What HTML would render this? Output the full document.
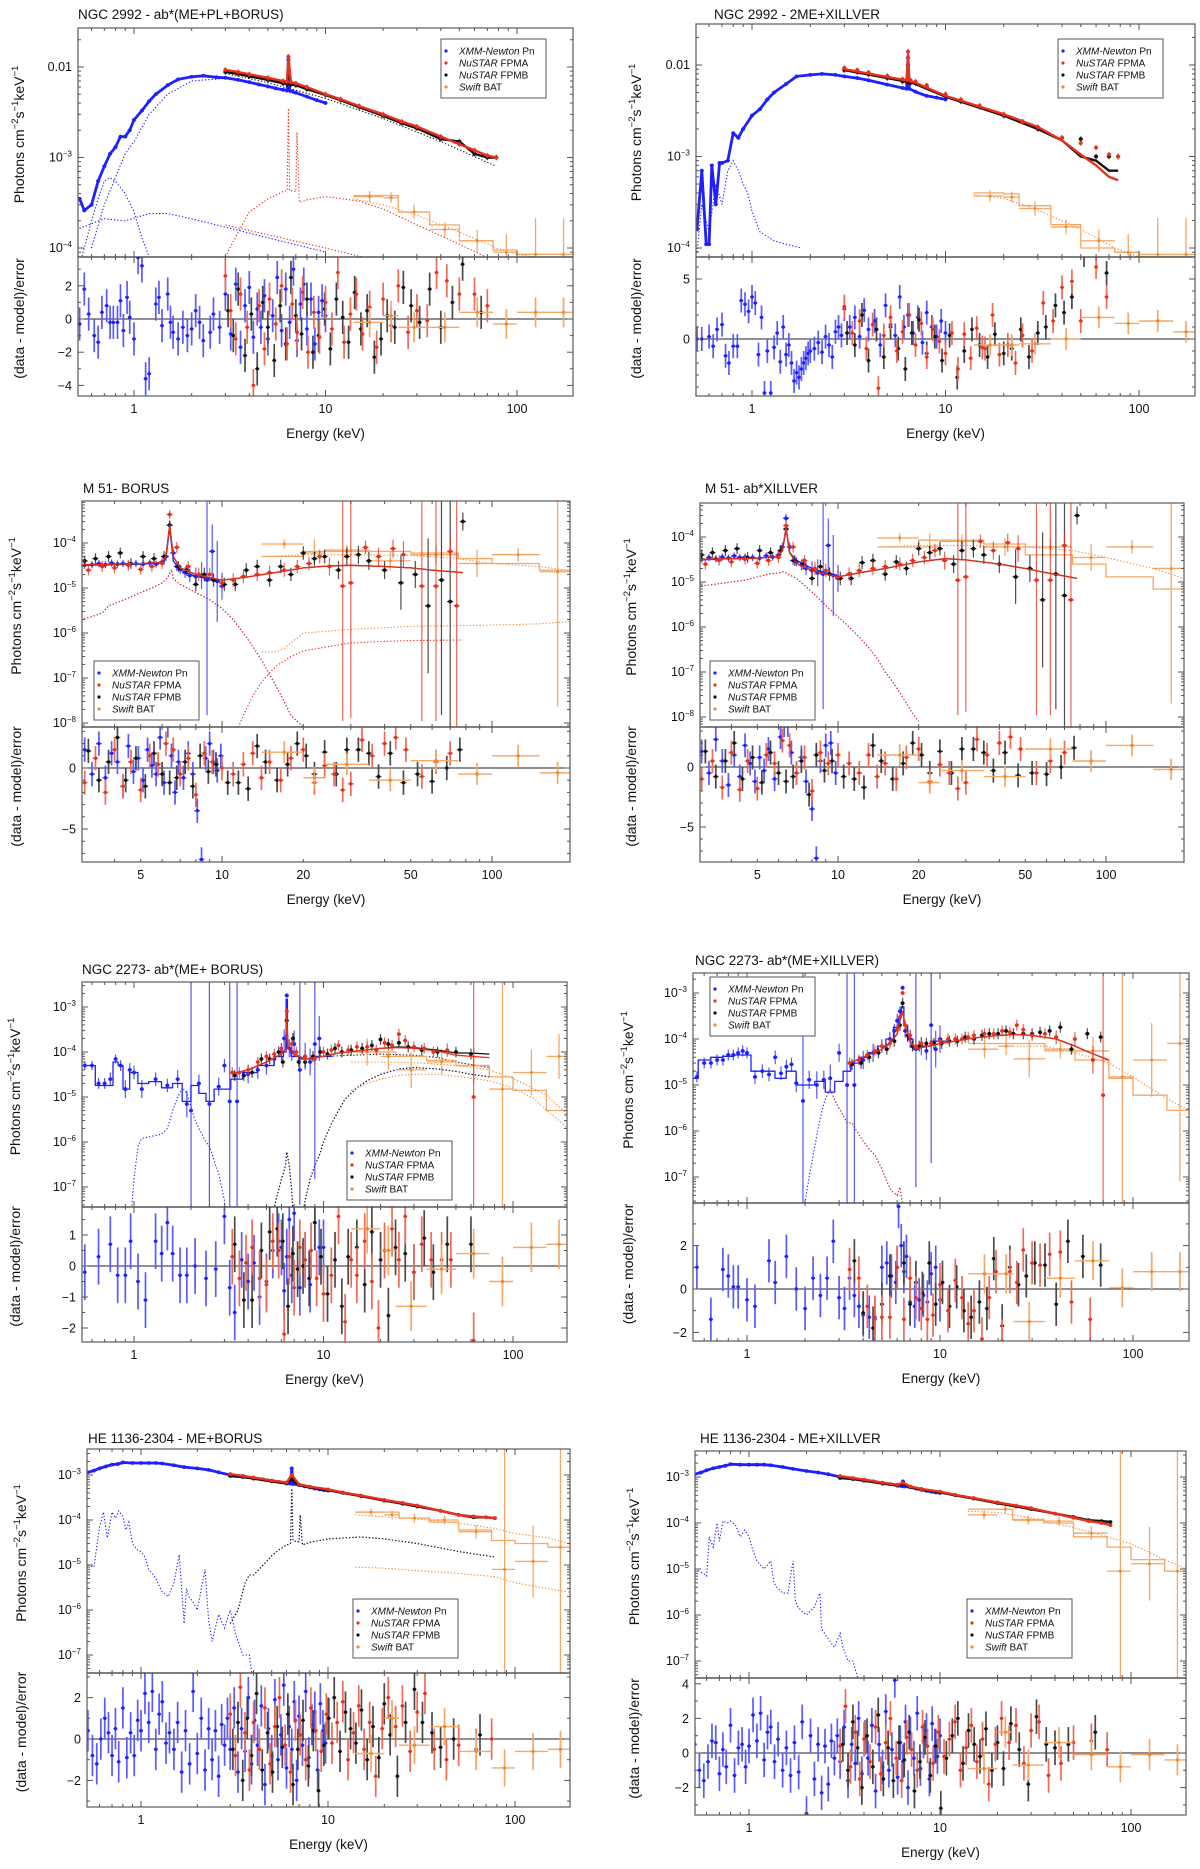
<!DOCTYPE html>
<html><head><meta charset="utf-8"><title>X-ray spectral fits</title>
<style>
html,body{margin:0;padding:0;background:#fff;}
svg text{font-family:"Liberation Sans",Arial,sans-serif;fill:#111;}
</style></head>
<body>
<svg id="fig" xmlns="http://www.w3.org/2000/svg" width="1200" height="1864" viewBox="0 0 1200 1864"><rect width="1200" height="1864" fill="#fff"/></svg>
<script>
// ---------- shared BAT binning ----------
const batBins=[14,20,24,35,50,75,100,150,195];
const batE=[17,22,29,42,62,88,125,175];

// ---------- Panel 1: NGC 2992 - ab*(ME+PL+BORUS) ----------
const p1_xE=[0.52,0.55,0.6,0.65,0.7,0.75,0.8,0.85,0.9,0.95,1.0,1.1,1.2,1.3,1.5,1.7,2.0,2.3,2.7,3.0,3.5,4,4.5,5,5.5,6.0,6.3,6.4,6.5,6.7,7,8,9,10];
const p1_xF=[3.5e-4,2.6e-4,3e-4,5.5e-4,8e-4,1.1e-3,1.3e-3,1.7e-3,1.7e-3,2e-3,2.6e-3,3.3e-3,4.2e-3,5e-3,6.3e-3,7.3e-3,7.8e-3,8e-3,7.7e-3,7.6e-3,7.2e-3,6.8e-3,6.4e-3,6.1e-3,5.8e-3,5.6e-3,5.5e-3,1.2e-2,5.5e-3,5.4e-3,5.2e-3,4.7e-3,4.3e-3,4.0e-3];
const p1_nE=[3,3.5,4,5,6,6.3,6.4,6.6,7,8,10,12,15,20,25,30,40,50,60,70,78];
const p1_aF=[9.3e-3,8.8e-3,8.3e-3,7.6e-3,7e-3,6.9e-3,1.3e-2,6.8e-3,6.6e-3,6e-3,5e-3,4.4e-3,3.7e-3,3e-3,2.5e-3,2.2e-3,1.7e-3,1.4e-3,1.2e-3,1.05e-3,1.0e-3];
const p1_bF=[8.8e-3,8.4e-3,7.9e-3,7.2e-3,6.6e-3,6.5e-3,9e-3,6.4e-3,6.3e-3,5.7e-3,4.9e-3,4.3e-3,3.6e-3,2.9e-3,2.4e-3,2.1e-3,1.6e-3,1.5e-3,1.1e-3,1.0e-3,1.0e-3];
const p1_batF=[3.7e-4,3.6e-4,2.5e-4,1.6e-4,1.2e-4,9e-5,8.5e-5,8.5e-5];
const p1_batErr=[0.06,0.06,0.08,0.08,0.12,0.2,0.4,0.4];
const p1_batM=[3.8e-4,3.8e-4,2.5e-4,1.8e-4,1.2e-4,9.5e-5,8.5e-5,8.5e-5];
const p1_c1E=[0.5,0.55,0.6,0.65,0.7,0.75,0.8,0.9,1.0,1.1,1.2,1.4];
const p1_c1F=[5e-5,1e-4,2e-4,3.5e-4,5.5e-4,6e-4,5.5e-4,4e-4,2.5e-4,1.3e-4,8e-5,5e-5];
const p1_c2E=[0.6,0.7,0.8,0.9,1.0,1.2,1.5,2.0,3.0,5,7];
const p1_c2F=[1e-4,3e-4,6e-4,1.1e-3,1.5e-3,3e-3,5e-3,7e-3,7.5e-3,6e-3,5e-3];
const p1_c3E=[0.5,0.7,0.9,1.2,1.5,2,3,5,10];
const p1_c3F=[1.6e-4,2.1e-4,2e-4,2.4e-4,2.4e-4,2.1e-4,1.7e-4,1.3e-4,9e-5];
const p1_c4E=[3,3.5,4,5,6,6.3,6.4,6.5,6.8,7.0,7.1,7.3,8,10,15,20,30,50,78];
const p1_c4F=[8e-5,1.5e-4,2.5e-4,3.5e-4,4.2e-4,4.3e-4,3.5e-3,4.3e-4,4.3e-4,4.2e-4,1.9e-3,3.2e-4,3.4e-4,3.7e-4,3.3e-4,2.7e-4,1.8e-4,1.1e-4,7e-5];
const p1_c5E=[3,5,10,20,30];
const p1_c5F=[1.8e-4,1.4e-4,1.0e-4,7e-5,5.5e-5];
const p1_c6E=[3,5,10,20,40,78];
const p1_c6F=[8.5e-3,6.7e-3,4.5e-3,2.7e-3,1.5e-3,8e-4];
const p1_c7E=[14,20,30,50,78,100,150,195];
const p1_c7F=[3.5e-4,3.0e-4,2.3e-4,1.5e-4,1.0e-4,8.5e-5,7.5e-5,7e-5];
const p1_rxE=[0.52,0.55,0.58,0.62,0.65,0.68,0.72,0.75,0.78,0.82,0.85,0.88,0.92,0.95,1.0,1.05,1.1,1.15,1.2,1.3,1.35,1.4,1.5,1.55,1.6,1.7,1.8,1.9,2.0,2.1,2.2,2.3,2.5,2.6,2.8,3.0,3.2,3.4,3.6,3.8,4.0,4.2,4.4,4.6,4.8,5.0,5.3,5.6,5.9,6.2,6.5,6.8,7.1,7.4,7.7,8.0,8.4,8.8,9.2,9.6,10];
const p1_rxR=[-0.3,1.8,0.3,-1.0,-1.4,0.4,0.8,-0.2,-0.2,-0.2,1.1,-0.7,1.3,0.1,-1.2,3.7,3.2,-3.6,-3.3,0.9,1.3,-0.4,1.5,-0.2,-0.8,-1.2,-0.5,-1.0,-0.6,0.5,-0.2,-1.3,-0.8,0.3,-0.5,1.5,-0.9,2.1,-1.7,0.8,1.9,-1.1,0.6,-0.5,1.4,-1.2,0.2,2.5,-0.7,1.8,-0.2,3.0,-1.3,0.9,2.1,-0.6,1.2,-1.5,0.4,1.1,0.2];
const p1_raE=[3.0,3.2,3.4,3.6,3.9,4.2,4.5,4.8,5.1,5.5,5.9,6.3,6.7,7.1,7.6,8.1,8.7,9.3,10,10.8,11.6,12.5,13.5,14.5,15.6,17,18.5,20,22,24,27,30,34,38,43,50,60,70];
const p1_raR=[2.6,0.5,-1.2,1.5,-0.5,-4.0,0.8,-1.8,1.2,-0.3,2.0,-1.5,0.9,-0.8,1.6,-2.0,0.4,-1.1,1.0,-0.6,2.8,-1.4,0.3,1.5,-0.9,0.7,-1.7,1.2,-0.4,2.0,-0.8,0.5,-0.1,2.8,2.3,1.5,1.5,0.8];
const p1_rbE=[3.1,3.3,3.5,3.8,4.1,4.4,4.7,5.0,5.4,5.8,6.2,6.6,7.0,7.5,8.0,8.6,9.2,9.9,10.6,11.4,12.3,13.2,14.2,15.3,16.5,18,19.5,21,23,25.5,28,31,35,40,46,52,65];
const p1_rbR=[0.5,-1.0,1.8,-2.2,0.3,-3.0,1.0,-0.5,-2.5,0.8,-1.5,2.5,0.2,-0.9,1.2,-2.0,-1.0,0.6,-1.8,1.2,0.1,-1.4,1.6,-0.6,0.5,-2.3,-1.2,0.2,-0.5,1.9,0.8,-0.2,1.8,-0.5,1.0,3.3,0.4];
const p1_rtR=[-0.2,0.2,-0.5,-0.5,0.4,-0.3,0.4,0.4];

// ---------- Panel 2: NGC 2992 - 2ME+XILLVER ----------
const p2_xE=[0.52,0.55,0.58,0.6,0.62,0.65,0.68,0.7,0.75,0.8,0.85,0.9,1.0,1.1,1.2,1.3,1.5,1.7,2.0,2.3,2.7,3.0,3.5,4,5,6,6.3,6.4,6.5,7,8,9,10];
const p2_xF=[1.6e-4,7e-4,1.1e-4,1.1e-4,8e-4,3e-4,8.5e-4,8.5e-4,9e-4,1.8e-3,1.6e-3,2e-3,2.8e-3,3.3e-3,4.2e-3,5e-3,6.2e-3,7.5e-3,7.8e-3,8e-3,7.8e-3,7.5e-3,7.2e-3,6.8e-3,6.1e-3,5.6e-3,5.5e-3,1.2e-2,5.5e-3,5.1e-3,4.6e-3,4.4e-3,4.2e-3];
const p2_nE=[3,3.5,4,5,6,6.3,6.4,6.6,7,8,10,12,15,20,25,30,40,50,60,70,78];
const p2_aF=[9.3e-3,8.8e-3,8.3e-3,7.6e-3,7e-3,6.9e-3,1.4e-2,6.8e-3,6.6e-3,6e-3,4.8e-3,4.2e-3,3.6e-3,2.9e-3,2.4e-3,2.1e-3,1.6e-3,1.4e-3,1.25e-3,1.05e-3,1.0e-3];
const p2_bF=[8.8e-3,8.4e-3,7.9e-3,7.2e-3,6.6e-3,6.5e-3,1e-2,6.4e-3,6.3e-3,5.7e-3,4.6e-3,4.0e-3,3.5e-3,2.8e-3,2.4e-3,2.0e-3,1.6e-3,1.55e-3,1.0e-3,1.0e-3,1.0e-3];
const p2_mE=[3,6,6.3,6.4,6.5,7,10,20,30,40,50,60,70,78];
const p2_mA=[9e-3,6.9e-3,6.8e-3,1.3e-2,6.7e-3,6.4e-3,4.6e-3,2.9e-3,2.1e-3,1.5e-3,1.05e-3,8e-4,6e-4,5.5e-4];
const p2_mB=[8.8e-3,6.7e-3,6.6e-3,1.0e-2,6.5e-3,6.2e-3,4.5e-3,2.8e-3,2.0e-3,1.5e-3,1.0e-3,9e-4,7e-4,7e-4];
const p2_batF=[3.7e-4,3.6e-4,2.7e-4,1.7e-4,1.2e-4,9e-5,8.5e-5,8.5e-5];
const p2_batErr=[0.06,0.06,0.08,0.08,0.12,0.2,0.4,0.4];
const p2_batM=[4e-4,3.9e-4,2.9e-4,1.8e-4,1.0e-4,9e-5,8e-5,8e-5];
const p2_c1E=[0.52,0.55,0.6,0.65,0.7,0.75,0.8,0.85,0.9,0.95,1.0,1.1,1.3,1.5,1.8];
const p2_c1F=[9e-5,3e-4,1.5e-4,5e-4,3e-4,7e-4,9e-4,7e-4,5e-4,4e-4,2.5e-4,1.5e-4,1.2e-4,1.1e-4,1.0e-4];
const p2_c2E=[14,20,30,50,75,100,150,195];
const p2_c2F=[3.8e-4,3.5e-4,2.6e-4,1.6e-4,1.0e-4,8e-5,7e-5,6.5e-5];
const p2_rxE=[0.52,0.55,0.6,0.63,0.66,0.7,0.73,0.76,0.8,0.84,0.88,0.92,0.96,1.0,1.04,1.08,1.12,1.16,1.2,1.25,1.3,1.35,1.4,1.45,1.5,1.55,1.6,1.65,1.7,1.75,1.8,1.85,1.9,1.95,2.0,2.1,2.2,2.3,2.4,2.5,2.6,2.7,2.8,2.9,3.0,3.2,3.4,3.6,3.8,4.0,4.3,4.6,4.9,5.2,5.5,5.8,6.1,6.4,6.8,7.2,7.6,8.0,8.5,9.0,9.5,10];
const p2_rxR=[0,0,0.2,-0.6,0.8,1.2,-1.4,-2.0,-0.6,-0.6,3.2,2.9,2.3,3.5,3.0,-1.3,1.8,-4.5,-1.0,-4.5,-0.7,0.5,-1.9,1.0,-1.3,-0.5,-2.0,-3.5,-2.8,-3.2,-2.5,-2.0,-1.6,-1.2,-1.0,-0.8,-0.3,-1.1,0.2,-0.5,-1.5,0.6,1.0,0.3,2.5,1.0,1.8,0.2,2.4,0.8,1.5,-0.5,2.8,1.2,0.3,3.5,1.0,2.0,0.5,1.8,-0.3,2.2,1.0,0.2,1.5,0.5];
const p2_raE=[3.0,3.3,3.6,3.9,4.2,4.5,4.8,5.2,5.6,6.0,6.5,7.0,7.5,8.0,8.6,9.3,10,10.8,11.6,12.5,13.5,14.5,16,17.5,19,21,23,25,28,32,36,40,45,50,60,68,15.5];
const p2_raR=[2.7,0.5,1.5,-0.8,1.2,-4.1,0.3,1.8,-1.0,0.6,2.0,-0.5,1.3,-1.5,0.8,-0.2,-1.2,0.5,-2.5,0.4,-1.6,0.9,-0.8,2.0,-1.3,-0.5,-2.0,0.3,-1.0,3.0,1.5,4.3,4.8,1.5,6.0,3.5,-0.7];
const p2_rbE=[3.1,3.4,3.7,4.0,4.4,4.8,5.2,5.7,6.2,6.7,7.3,8.0,8.8,9.6,10.5,11.5,12.5,13.7,15,16.5,18,20,22,24.5,27,30,33,37,41,45,52,68];
const p2_rbR=[0.5,-0.5,2.0,-1.8,0.8,-1.5,1.0,-0.8,-2.5,0.5,1.6,-1.2,0.2,-1.8,0.3,-3.2,-1.0,0.8,-0.5,-1.5,0.4,-1.2,-0.8,0.8,-1.5,0.5,1.0,2.8,2.2,3.5,7.0,5.5];
const p2_rtR=[-0.5,-0.5,-0.4,0,1.8,1.3,1.5,0.6];

// ---------- Panel 3: M 51- BORUS ----------
const p3_xE=[3.1,3.3,3.5,3.7,3.9,4.1,4.3,4.5,4.8,5.1,5.4,5.7,6.0,6.2,6.4,6.6,6.8,7.0,7.3,7.6,8.0,8.4,8.8,9.2,9.6,10];
const p3_xF=[3.2e-5,3.3e-5,3.5e-5,3.3e-5,3.6e-5,3.4e-5,3.5e-5,3.3e-5,3.5e-5,3.4e-5,3.6e-5,3.4e-5,3.8e-5,5e-5,2.5e-4,6e-5,3e-5,2.6e-5,2.2e-5,1.9e-5,1.8e-5,1.9e-5,1.5e-5,6.5e-5,1.4e-5,1.1e-5];
const p3_xErr=[.08,.08,.08,.08,.08,.08,.08,.08,.08,.08,.08,.08,.08,.1,.1,.1,.1,.1,.12,.15,.2,.3,3,.6,.9,.3];
const p3_xmE=[3.1,4,5,6,6.2,6.4,6.6,7,8,9,10];
const p3_xmF=[3.2e-5,3.3e-5,3.4e-5,3.6e-5,4.5e-5,2.2e-4,4e-5,2.5e-5,1.8e-5,1.6e-5,1.5e-5];
const p3_aE=[3.2,3.6,4.0,4.5,5.0,5.5,6.0,6.4,6.8,7.5,8.2,9,10,11,12,13.5,15,17,19,21,23,25,28,30,34,38,43,47,55,62,70,74];
const p3_aF=[2.5e-5,3e-5,2.8e-5,3.2e-5,2.6e-5,3e-5,3.5e-5,4.3e-4,8e-5,3e-5,2e-5,2e-5,1.3e-5,1.5e-5,1.8e-5,2e-5,2.2e-5,2.5e-5,3e-5,3.5e-5,5e-5,3e-5,1.1e-5,1.3e-5,8e-5,5e-5,7.5e-5,5.5e-5,1.1e-5,1.1e-5,6.5e-5,4e-6];
const p3_aErr=[.12,.12,.12,.12,.12,.12,.12,.1,.12,.12,.15,.15,.15,.15,.15,.15,.15,.15,.15,.15,.15,.2,3,3,.15,.2,.2,.3,3,3,.3,3];
const p3_bE=[3.1,3.4,3.8,4.2,4.6,5.1,5.6,6.1,6.4,6.9,7.4,8.0,8.6,9.3,10.2,11.2,12.3,13.5,15,16.5,18,20,22,24,27,29,32,35,40,46,52,58,65,70,78];
const p3_bF=[4e-5,4.5e-5,5e-5,6e-5,3.5e-5,5e-5,4.5e-5,5e-5,2.5e-4,3e-5,2.5e-5,1.2e-5,2e-5,1.5e-5,1.2e-5,1.2e-5,2.5e-5,3e-5,1.5e-5,3e-5,2e-5,6e-5,4.5e-5,5e-5,2.5e-5,5e-5,5.5e-5,4e-5,2.5e-5,1.3e-5,2e-5,4e-6,1.5e-5,5e-6,3e-4];
const p3_bErr=[.12,.12,.12,.12,.12,.12,.12,.12,.1,.12,.12,.15,.15,.15,.15,.15,.15,.15,.15,.15,.15,.15,.15,.15,.2,.2,.2,.2,.2,.6,.3,1.5,3,3,.2];
const p3_mE=[3,4,5,6,6.2,6.4,6.6,7,8,9,10,12,15,20,25,30,40,50,60,78];
const p3_mF=[3.3e-5,3.4e-5,3.5e-5,3.7e-5,5e-5,2.5e-4,5e-5,2.8e-5,2e-5,1.7e-5,1.5e-5,1.7e-5,2.1e-5,2.8e-5,3.1e-5,3.2e-5,3e-5,2.8e-5,2.5e-5,2.2e-5];
const p3_batF=[9.5e-5,6e-5,6.5e-5,4e-5,5.5e-5,3.5e-5,5.5e-5,2.3e-5];
const p3_batErr=[.1,.3,.15,.2,.2,.3,.15,3];
const p3_batM=[5e-5,6.5e-5,7e-5,6.5e-5,6e-5,4.5e-5,3.5e-5,2.5e-5];
const p3_c1E=[3,3.3,3.6,3.8,4,4.5,5,5.5,6,6.3,6.5,6.6,7,8,9,10,11,12,13,14,15,16,17,18,20];
const p3_c1F=[2e-6,2.3e-6,2.8e-6,4e-6,4.5e-6,6e-6,8e-6,1e-5,1.3e-5,1.7e-5,2.6e-5,1.6e-5,1.2e-5,8e-6,5.5e-6,3.5e-6,2e-6,1e-6,5e-7,2.5e-7,1.2e-7,6e-8,3e-8,1.5e-8,8e-9];
const p3_c2E=[11.5,12,13,14,15,16,18,20,25,30,40,50,78];
const p3_c2F=[8e-9,1.5e-8,4e-8,8e-8,1.3e-7,1.9e-7,3e-7,4e-7,5e-7,6e-7,6.5e-7,6.8e-7,7e-7];
const p3_c3E=[14,15,16,17,18,20,30,50,100,150,195];
const p3_c3F=[3.8e-7,3.8e-7,3.9e-7,4.5e-7,6e-7,1e-6,1.2e-6,1.4e-6,1.5e-6,1.6e-6,1.8e-6];
const p3_c4E=[14,20,30,50,75,100,150,195];
const p3_c4F=[5e-5,5.5e-5,5.5e-5,5.3e-5,4.5e-5,3.5e-5,3e-5,2.4e-5];
const p3_rxE=[3.1,3.3,3.5,3.7,3.9,4.1,4.3,4.5,4.7,4.9,5.1,5.3,5.5,5.7,5.9,6.1,6.3,6.5,6.7,6.9,7.2,7.5,7.8,8.1,8.4,8.7,9.0,9.3,9.6,9.9];
const p3_rxR=[1.5,-0.5,2.0,-0.8,1.2,0.5,-1.5,1.8,-0.3,0.8,-1.0,1.5,0.2,-0.5,2.5,-1.2,3.5,1.0,-2.0,0.5,-0.8,1.2,-0.5,-3.5,-7.5,0.8,2.0,0.5,-0.2,1.0];
const p3_raE=[3.1,3.4,3.7,4.0,4.3,4.6,5.0,5.4,5.8,6.2,6.6,7.0,7.5,8.0,8.6,9.2,10,11,12,13,14,15,16.5,18,20,22,24,26,28,30,33,36,40,44,48,55,62,70];
const p3_raR=[-1.2,0.8,-2.0,1.5,-1.5,0.5,-1.8,1.0,0.3,2.0,1.5,-0.5,0.8,-2.2,1.2,0.5,0,-0.5,0.3,1.2,-0.8,0.5,-1.0,0.8,1.5,-1.2,0.2,-0.5,-1.8,-1.3,2.3,1.0,2.0,2.5,1.5,-0.7,0.5,1.2];
const p3_rbE=[3.2,3.5,3.8,4.1,4.4,4.8,5.2,5.6,6.0,6.4,6.8,7.3,7.8,8.3,8.9,9.5,10.5,11.5,12.5,13.5,14.5,16,17.5,19,20.5,22,24,26.5,29,32,35,38,42,47,53,60,68,76];
const p3_rbR=[1.4,-1.0,0.5,2.5,-1.0,0.8,-1.5,1.2,-0.5,-1.2,-0.8,0.5,-1.5,1.0,-0.3,0.3,-1.2,-1.2,-1.7,1.8,0.5,-1.0,0.3,2.0,1.0,-0.5,1.3,-0.5,1.5,1.5,1.2,-0.7,1.2,-1.2,-0.5,-1.1,0,1.5];
const p3_rtR=[1.3,-0.8,0.3,-1.0,0.6,-0.5,1.0,-0.4];

// ---------- Panel 4: M 51- ab*XILLVER ----------
const p4_xE=[3.1,3.3,3.5,3.7,3.9,4.1,4.3,4.5,4.8,5.1,5.4,5.7,6.0,6.2,6.4,6.6,6.8,7.0,7.3,7.6,8.0,8.4,8.8,9.2,9.6,10];
const p4_xF=[3.2e-5,3.5e-5,3.3e-5,3.6e-5,3.4e-5,3.8e-5,3.5e-5,3.6e-5,3.5e-5,3.4e-5,3.8e-5,3.6e-5,4e-5,6e-5,2.6e-4,6e-5,3e-5,2.8e-5,2.4e-5,2e-5,1.8e-5,1.6e-5,1.5e-5,6.5e-5,1.4e-5,1.2e-5];
const p4_xErr=[.08,.08,.08,.08,.08,.08,.08,.08,.08,.08,.08,.08,.08,.1,.1,.1,.1,.1,.12,.15,.2,.3,3,.6,.9,.3];
const p4_xmE=[3.1,4,5,6,6.2,6.4,6.6,7,8,9,10];
const p4_xmF=[3.1e-5,3.3e-5,3.4e-5,3.7e-5,5e-5,1.5e-4,4.5e-5,3e-5,2e-5,1.6e-5,1.4e-5];
const p4_aE=[3.2,3.6,4.0,4.5,5.0,5.5,6.0,6.4,6.8,7.5,8.2,9,10,11,12,13.5,15,17,19,21,23,25,28,30,34,38,43,47,55,62,70,74];
const p4_aF=[2.5e-5,3e-5,2.8e-5,3.2e-5,2.6e-5,3e-5,3.5e-5,1.8e-4,6e-5,3e-5,2e-5,1.8e-5,1.3e-5,1.5e-5,1.8e-5,2e-5,2.2e-5,2.5e-5,3e-5,3.5e-5,5e-5,3e-5,1.1e-5,1.3e-5,8e-5,5e-5,7.5e-5,5.5e-5,1.1e-5,1.1e-5,6.5e-5,4e-6];
const p4_aErr=[.12,.12,.12,.12,.12,.12,.12,.1,.12,.12,.15,.15,.15,.15,.15,.15,.15,.15,.15,.15,.15,.2,3,3,.15,.2,.2,.3,3,3,.3,3];
const p4_bE=[3.1,3.4,3.8,4.2,4.6,5.1,5.6,6.1,6.4,6.9,7.4,8.0,8.6,9.3,10.2,11.2,12.3,13.5,15,16.5,18,20,22,24,27,29,32,35,40,46,52,58,65,70,78];
const p4_bF=[4e-5,4.5e-5,5e-5,5.5e-5,3.5e-5,5e-5,4.5e-5,5e-5,1.5e-4,3e-5,2.5e-5,1.2e-5,2.2e-5,1.5e-5,1.2e-5,1.2e-5,2.7e-5,3e-5,1.5e-5,2.8e-5,2e-5,5.5e-5,4.5e-5,5.5e-5,2.5e-5,5e-5,5.5e-5,4e-5,2.5e-5,1.3e-5,2e-5,4e-6,1.5e-5,5e-6,3e-4];
const p4_bErr=[.12,.12,.12,.12,.12,.12,.12,.12,.1,.12,.12,.15,.15,.15,.15,.15,.15,.15,.15,.15,.15,.15,.15,.15,.2,.2,.2,.2,.2,.6,.3,1.5,3,3,.2];
const p4_mE=[3,4,5,6,6.2,6.4,6.6,7,8,9,10,12,15,20,25,30,40,50,60,78];
const p4_mF=[3.2e-5,3.3e-5,3.4e-5,3.7e-5,5e-5,1.6e-4,4.5e-5,2.6e-5,1.8e-5,1.5e-5,1.3e-5,1.6e-5,2e-5,2.8e-5,3.3e-5,3.1e-5,2.5e-5,2e-5,1.6e-5,1.2e-5];
const p4_batF=[9.5e-5,6e-5,8e-5,6e-5,6e-5,3.5e-5,6e-5,2e-5];
const p4_batErr=[.1,.3,.15,.2,.2,.3,.15,3];
const p4_batM=[6e-5,8.5e-5,8.5e-5,7e-5,4e-5,2.5e-5,1.3e-5,7e-6];
const p4_c1E=[3,3.5,4,4.5,5,5.5,6,6.3,6.5,7,8,9,10,11,12,13,14,15,16,17,18,19,20];
const p4_c1F=[8e-6,9e-6,1e-5,1.1e-5,1.3e-5,1.5e-5,1.6e-5,1.7e-5,1.5e-5,1.2e-5,6e-6,3e-6,1.7e-6,1e-6,6e-7,3.5e-7,2e-7,1e-7,6e-8,3.5e-8,2e-8,1.2e-8,8e-9];
const p4_c2E=[14,20,30,50,75,100,150,195];
const p4_c2F=[6e-5,6.5e-5,6.5e-5,6e-5,5e-5,3.5e-5,2e-5,1.2e-5];
const p4_rxE=[3.1,3.3,3.5,3.7,3.9,4.1,4.3,4.5,4.7,4.9,5.1,5.3,5.5,5.8,6.1,6.3,6.5,6.7,7.0,7.3,7.6,8.0,8.3,8.6,9.0,9.4,9.8];
const p4_rxR=[1.3,-0.5,2.3,0.5,-1.5,1.0,-0.8,1.8,0.3,-1.2,0.8,-0.3,1.5,-1.0,2.5,3.5,3.5,1.2,-0.5,0.8,-1.2,-3.5,-7.6,0.5,1.8,2.0,-0.5];
const p4_raE=[3.1,3.4,3.7,4.0,4.3,4.6,5,5.4,5.8,6.2,6.6,7.0,7.5,8.0,8.6,9.2,10,11,12,13,14,15,16.5,18,20,22,24,26,28,30,33,36,40,44,48,55,62,70];
const p4_raR=[-1.0,0.5,-1.7,1.2,-1.9,0.5,-1.8,1.0,0.3,2.2,1.8,-0.5,0.8,-2.0,1.2,0.3,1.0,0.3,-0.5,1.0,-0.8,0.3,-1.0,0.8,1.5,-1.2,0.2,-0.5,-1.8,-1.3,2.3,1.0,2.0,2.5,1.5,-0.5,0.5,1.2];
const p4_rbE=[3.2,3.5,3.8,4.1,4.4,4.8,5.2,5.6,6.0,6.4,6.8,7.3,7.8,8.3,8.9,9.5,10.5,11.5,12.5,13.5,14.5,16,17.5,19,20.5,22,24,26.5,29,32,35,38,42,47,53,60,68,76];
const p4_rbR=[1.3,-0.8,0.5,2.0,-1.0,0.8,-1.3,1.2,-0.5,-1.2,-0.8,0.5,-2.3,1.0,-0.3,0.5,-0.8,-1.0,-1.7,1.8,0.5,-1.0,0.3,2.0,1.0,-0.5,1.3,-0.5,1.5,1.5,1.2,-0.3,1.2,-0.7,-0.5,-0.6,0,1.6];
const p4_rtR=[1.0,-1.3,-0.3,-0.8,1.5,0.5,1.8,-0.2];

// ---------- Panel 5: NGC 2273- ab*(ME+ BORUS) ----------
const p5_xE=[0.55,0.6,0.65,0.7,0.75,0.8,0.85,0.9,0.95,1.0,1.1,1.3,1.5,1.7,1.9,2.0,2.2,2.5,2.8,3.0,3.2,3.5,4,4.5,5,5.5,6.0,6.2,6.4,6.6,6.8,7.0,7.5,8,8.5,9,9.5];
const p5_xF=[5e-5,5e-5,2e-5,2e-5,2.5e-5,7e-5,5e-5,1.5e-5,4e-5,3.5e-5,1.5e-5,2.5e-5,1.8e-5,2.5e-5,7e-6,5e-6,2e-5,7e-6,1.7e-5,5e-5,8e-6,8e-6,3.2e-5,4e-5,5e-5,7e-5,1e-4,2e-4,1.8e-3,1.2e-4,1e-4,1.5e-4,4e-5,8e-5,6e-5,1.5e-4,2e-4];
const p5_xErr=[.1,.1,.12,.12,.15,.1,.12,.2,.15,.15,.2,.15,.15,.2,.3,3,.2,3,.2,.15,3,3,.2,.2,.2,.15,.2,.2,.05,.2,.2,.3,3,.3,.3,3,.5];
const p5_xmE=[0.52,0.6,0.65,0.75,0.8,0.85,0.9,1.0,1.1,1.3,1.5,1.7,1.9,2.1,2.3,2.5,2.8,3.0,3.5,4,5,6,6.3,6.4,6.5,7,8,10];
const p5_xmF=[5e-5,5e-5,1.8e-5,1.8e-5,6e-5,5e-5,1.5e-5,3.5e-5,2e-5,2.2e-5,1.6e-5,2e-5,8e-6,1.8e-5,1.2e-5,8e-6,1.5e-5,1.5e-5,2.5e-5,3.5e-5,5e-5,8e-5,1e-4,1.5e-3,1.2e-4,8e-5,7e-5,8e-5];
const p5_aE=[3.3,3.6,4,4.5,5,5.5,6,6.4,6.8,7.2,8,9,10,11,12,13.5,15,17,19,21,23,25,27,30,34,38,45,62];
const p5_aF=[3.5e-5,3.5e-5,4e-5,6e-5,8e-5,9e-5,1.2e-4,8e-4,1.5e-4,1e-4,8e-5,7e-5,1e-4,1.1e-4,1.4e-4,1.1e-4,1.3e-4,1.3e-4,1.1e-4,1.6e-4,1.4e-4,2.5e-4,1.8e-4,1.3e-4,1.2e-4,1.0e-4,1.1e-4,1e-5];
const p5_aErr=[.12,.12,.12,.12,.12,.12,.12,.08,.12,.12,.12,.12,.12,.12,.12,.12,.12,.12,.12,.12,.12,.12,.12,.12,.12,.12,.15,3];
const p5_bE=[3.4,3.8,4.2,4.7,5.2,5.8,6.1,6.4,6.9,7.4,8,8.8,9.6,10.5,11.5,12.5,14,16,18,20,22,25,28,33,40,50,60];
const p5_bF=[3e-5,3e-5,3.5e-5,7e-5,7e-5,1e-4,6e-5,5e-4,2e-4,6e-5,6e-5,8e-5,1e-4,9e-5,1.2e-4,1e-4,1.1e-4,1.2e-4,1.4e-4,1.9e-4,1.5e-4,1.6e-4,1.3e-4,1.1e-4,1.0e-4,1.0e-4,9e-5];
const p5_mE=[3.3,4,5,6,6.3,6.4,6.5,7,8,10,12,15,20,25,30,40,50,60,75];
const p5_mA=[3.3e-5,4e-5,6e-5,9e-5,1.2e-4,7e-4,1.2e-4,9e-5,7e-5,8e-5,9.5e-5,1.05e-4,1.2e-4,1.25e-4,1.2e-4,1.05e-4,8.5e-5,8e-5,7.5e-5];
const p5_mB=[3.3e-5,4e-5,6e-5,9e-5,1.2e-4,7e-4,1.2e-4,9e-5,7e-5,8e-5,9.5e-5,1.05e-4,1.2e-4,1.3e-4,1.25e-4,1.1e-4,9.5e-5,9.5e-5,9e-5];
const p5_batF=[1e-4,8e-5,4e-5,6e-5,5e-5,1.5e-5,3.5e-5,8e-5];
const p5_batErr=[.3,.3,.4,.3,.4,3,.5,.5];
const p5_batM=[1e-4,1e-4,8e-5,6.5e-5,5e-5,2.8e-5,1.4e-5,5e-6];
const p5_c1E=[0.95,1.0,1.05,1.1,1.2,1.4,1.5,1.6,1.7,1.8,1.9,2.0,2.1,2.2,2.4,2.5,2.6,2.7,2.8,3.0,3.1];
const p5_c1F=[1e-8,1.5e-7,8e-7,1.2e-6,1.3e-6,1.5e-6,2e-6,5e-6,1e-5,1.6e-5,1.2e-5,6e-6,3e-6,2e-6,1e-6,8e-7,5e-7,3e-7,2e-7,5e-8,1e-8];
const p5_c2E=[5.2,5.6,6.0,6.3,6.4,6.6,6.8,7.0,7.5,8,8.5,9,9.5,10,11,12,13,15,17,20,25,30,40,50,60,75];
const p5_c2F=[1e-8,5e-8,1.5e-7,3e-7,6e-7,3e-7,8e-8,1e-8,1e-8,5e-8,1.5e-7,3e-7,5e-7,1e-6,2.5e-6,5e-6,9e-6,1.6e-5,2.3e-5,3.2e-5,4.2e-5,4.5e-5,4.2e-5,3.7e-5,3.2e-5,2.8e-5];
const p5_c3E=[14,17,20,25,30,40,50,75,100,130,150,175,195];
const p5_c3F=[1.4e-5,2e-5,2.5e-5,3e-5,3.2e-5,3.2e-5,2.9e-5,2.3e-5,1.6e-5,9e-6,5e-6,3e-6,2e-6];
const p5_c4E=[14,20,30,50,75,100,150,195];
const p5_c4F=[6e-5,6e-5,5.8e-5,5e-5,4e-5,2.6e-5,1.1e-5,4e-6];
const p5_c5E=[10,20,30,40,50,75];
const p5_c5F=[8e-5,9e-5,8.5e-5,7.5e-5,6e-5,4.5e-5];
const p5_rxE=[0.55,0.65,0.75,0.82,0.9,0.96,1.05,1.15,1.3,1.4,1.5,1.6,1.75,1.9,2.1,2.4,2.7,3.0,3.2,3.4,3.7,4.0,4.3,4.6,5.0,5.4,5.8,6.0,6.2,6.4,6.6,6.8,7.0,7.5,8.0,8.5,9.0,9.5,10];
const p5_rxR=[-0.2,0.3,0.7,-0.3,-0.3,0.8,-0.5,-1.1,0.8,0.4,1.4,0.4,-0.3,-0.3,0,-0.4,-0.1,1.6,-0.7,-1.5,0.2,-0.5,0.1,-1.0,-0.5,0.5,0.8,0.6,-0.8,0.3,1.5,-0.3,1.7,-0.7,0.2,-0.6,1.4,0.6,0.6];
const p5_raE=[3.3,3.6,3.9,4.2,4.6,5.0,5.4,5.8,6.2,6.6,7.0,7.5,8.0,8.6,9.2,10,11,12,13,14,15,16.5,18,19.5,21,23,25,27,30,33,37,42,47,62];
const p5_raR=[0.3,-0.4,0.1,0.6,-0.4,-0.6,0.8,0.5,-2.2,0.3,-0.7,0.6,0.2,0.5,-0.4,-0.9,-0.3,1.6,-1.8,0.2,-0.3,0.8,-0.5,-2.0,0.5,1.2,0.2,1.6,-0.2,0.7,0.2,0.2,0.2,-2.4];
const p5_rbE=[3.4,3.8,4.2,4.7,5.2,5.7,6.1,6.5,6.9,7.3,7.8,8.4,9.0,9.7,10.5,11.5,12.5,13.5,15,16.5,18,20,22,24,27,30,34,38,45,60];
const p5_rbR=[0.7,-1.1,-1.1,0.5,1.1,1.2,0.8,-1.3,0.4,-0.1,0,-0.4,1.4,0.3,-0.9,0.2,-1.3,0.3,0.6,-0.6,1.1,0.2,-1.6,0.6,0.4,-0.2,0.9,-0.2,0.7,0.7];
const p5_rtR=[1.2,0.5,-1.3,-0.1,0.4,-0.5,0.6,0.7];

// ---------- Panel 6: NGC 2273- ab*(ME+XILLVER) ----------
const p6_xE=[0.52,0.55,0.6,0.65,0.7,0.75,0.8,0.85,0.9,0.95,1.0,1.1,1.2,1.3,1.4,1.5,1.6,1.7,1.8,1.95,2.1,2.3,2.5,2.7,3.0,3.3,3.6,4.0,4.5,5.0,5.5,5.8,6.0,6.2,6.4,6.6,6.8,7.0,7.5,8,8.5,9,9.5,10];
const p6_xF=[2e-5,1.5e-5,3e-5,3e-5,3.5e-5,3.5e-5,4.5e-5,4.5e-5,5e-5,5.5e-5,5e-5,1.5e-5,2e-5,1.7e-5,4e-5,1.8e-5,2.5e-5,2.8e-5,1.1e-5,4.5e-6,1.3e-5,1e-5,1.3e-5,1.4e-5,5e-5,1e-5,1e-5,3.5e-5,5e-5,7e-5,1e-4,1.5e-4,2.5e-4,4e-4,1.3e-3,1.5e-4,1.2e-4,1e-4,6e-5,7e-5,5.5e-5,2e-4,6e-5,1e-4];
const p6_xErr=[.12,.12,.12,.12,.12,.12,.12,.12,.12,.12,.12,.15,.15,.15,.15,.15,.15,.15,.2,3,.2,.3,.2,.3,.2,3,3,.2,.2,.15,.15,.15,.15,.1,.05,.15,.15,.2,3,.2,.2,3,.4,.3];
const p6_xmE=[0.52,0.6,0.7,0.8,0.9,1.0,1.1,1.3,1.5,1.7,1.9,2.1,2.4,2.7,3.0,3.3,3.6,4,4.5,5,5.5,6,6.2,6.4,6.6,7,7.5,8,10];
const p6_xmF=[1.4e-5,3.5e-5,4e-5,4.2e-5,4.5e-5,4.5e-5,2e-5,2e-5,1.4e-5,2e-5,1e-5,1e-5,1.2e-5,7e-6,1.2e-5,2e-5,3e-5,4e-5,5e-5,7e-5,1e-4,1.8e-4,3e-4,5e-4,2e-4,1e-4,6e-5,7e-5,9e-5];
const p6_aE=[3.4,3.8,4.2,4.6,5,5.5,6,6.2,6.4,6.6,7,7.5,8,9,10,11,12,13,14,15,17,19,21,23,25,27,30,35,40,50,62,70];
const p6_aF=[3e-5,3.5e-5,4.5e-5,5.5e-5,7e-5,8e-5,1.6e-4,3e-4,1e-3,2e-4,1.2e-4,7e-5,8e-5,8e-5,9e-5,1e-4,1e-4,1e-4,1.1e-4,1.2e-4,1.3e-4,1.3e-4,1.5e-4,1.4e-4,2e-4,1.6e-4,1.2e-4,1.3e-4,1.1e-4,1e-4,3.5e-5,6e-6];
const p6_aErr=[.12,.12,.12,.12,.12,.12,.1,.08,.05,.1,.12,.12,.12,.12,.12,.12,.12,.12,.12,.12,.12,.12,.12,.12,.12,.12,.12,.12,.15,.15,.3,3];
const p6_bE=[3.5,3.9,4.3,4.8,5.3,5.8,6.2,6.4,6.8,7.2,7.8,8.5,9.3,10.2,11.2,12.3,13.5,15,16.5,18,20,22,24,27,30,33,37,42,48,58,68];
const p6_bF=[2.8e-5,3e-5,4e-5,5e-5,6e-5,9e-5,2e-4,6e-4,1.2e-4,7e-5,7e-5,8e-5,8e-5,8e-5,9e-5,9e-5,1.1e-4,1e-4,1.2e-4,1.3e-4,1.3e-4,1.5e-4,1.3e-4,1.3e-4,1.3e-4,1.4e-4,1.5e-4,1.8e-4,6e-5,1.3e-4,1.1e-4];
const p6_mE=[3.4,4,5,5.5,6,6.2,6.4,6.6,7,7.5,8,10,12,15,20,25,30,40,50,60,75];
const p6_mA=[3e-5,4e-5,6e-5,8e-5,1.3e-4,2.5e-4,4e-4,2e-4,9e-5,6e-5,6.5e-5,8e-5,9e-5,1.05e-4,1.2e-4,1.25e-4,1.2e-4,1e-4,7e-5,5e-5,3.5e-5];
const p6_batF=[6e-5,7e-5,3.7e-5,6e-5,5.5e-5,1.5e-5,3.5e-5,8e-5];
const p6_batErr=[.2,.2,.4,.2,.3,3,.8,3];
const p6_batM=[8e-5,8e-5,8e-5,5.5e-5,3.5e-5,1.4e-5,6e-6,2.8e-6];
const p6_c1E=[1.95,2.0,2.1,2.2,2.3,2.4,2.5,2.6,2.7];
const p6_c1F=[1e-8,3e-8,1e-7,3e-7,8e-7,2e-6,4e-6,6e-6,8e-6];
const p6_c2E=[2.7,2.9,3.1,3.3,3.5,3.7,4,4.3,4.6,5,5.3,5.6,6,6.2,6.4,6.5];
const p6_c2F=[8e-6,4e-6,2.5e-6,1.5e-6,1.5e-6,1e-6,6e-7,4e-7,3e-7,1.5e-7,8e-8,5e-8,4e-8,6e-8,2.5e-8,1e-8];
const p6_c3E=[24,35,50,75,100,150,195];
const p6_c3F=[7e-5,7e-5,5e-5,3e-5,1.5e-5,5e-6,2.8e-6];
const p6_rxE=[0.55,0.65,0.75,0.8,0.85,0.9,1.0,1.1,1.3,1.4,1.6,1.8,2.0,2.2,2.4,2.6,2.8,3.0,3.2,3.4,3.6,3.8,4.0,4.3,4.6,5.0,5.3,5.6,5.9,6.1,6.3,6.5,6.7,7.0,7.4,7.8,8.2,8.6,9.0,9.5,10];
const p6_rxR=[1.0,-1.4,0.9,0.6,0.1,0.1,-0.5,-0.8,1.3,0.3,1.5,0,-0.9,0.5,-0.3,0.5,2.2,-0.4,-0.9,0.5,-0.3,-0.8,-1.2,-1.3,-1.4,1.0,1.2,0.6,0.3,3.8,2.0,0.8,1.5,-0.6,-0.8,-0.5,-0.3,-0.6,0.7,1.0,-0.5];
const p6_raE=[3.4,3.8,4.2,4.6,5.0,5.5,6.0,6.5,7.0,7.5,8.0,8.6,9.2,10,11,12,13,14,15,16.5,18,19.5,21,23,25,27,30,33,37,42,48,60];
const p6_raR=[0.9,0.5,-0.8,-1.3,-1.3,-1.3,1.0,-1.4,0.5,-0.4,-0.9,-1.4,-1.2,0.2,-1.0,0.4,-0.4,-1.6,-1.0,-2.3,-0.4,0.8,-2.4,0.8,0.3,1.8,1.2,1.1,1.6,1.7,-0.6,-1.4];
const p6_rbE=[3.6,4.0,4.5,5.0,5.5,6.0,6.5,7.0,7.5,8.1,8.8,9.5,10.3,11.2,12.2,13.3,14.5,16,17.5,19,21,23,25.5,28,31,35,40,46,55,68];
const p6_rbR=[1.3,-1.1,-1.8,-0.7,0.6,1.0,1.2,-0.7,0.3,-0.2,1.2,-0.7,0.3,-0.8,0.1,-1.0,-1.3,-0.6,-0.9,1.4,-1.7,1.0,0.2,0.6,1.2,1.1,-0.7,2.2,1.5,1.1];
const p6_rtR=[0.7,0.7,-1.5,0.5,1.3,0.05,0.8,0.8];

// ---------- Panel 7: HE 1136-2304 - ME+BORUS ----------
const p7_xE=[0.52,0.56,0.6,0.65,0.7,0.75,0.8,0.9,1.0,1.1,1.2,1.3,1.5,1.7,2.0,2.3,2.6,3.0,3.5,4,4.5,5,5.5,6,6.3,6.4,6.5,7,7.5,8,8.5,9,9.5,10];
const p7_xF=[1.15e-3,1.25e-3,1.4e-3,1.55e-3,1.7e-3,1.75e-3,1.9e-3,1.85e-3,1.85e-3,1.85e-3,1.85e-3,1.8e-3,1.65e-3,1.5e-3,1.4e-3,1.3e-3,1.15e-3,1.0e-3,9.5e-4,8.5e-4,8e-4,7.5e-4,7e-4,6.5e-4,6.4e-4,1.4e-3,6.3e-4,6e-4,5.6e-4,5.3e-4,5e-4,4.8e-4,4.6e-4,4.5e-4];
const p7_nE=[3,3.5,4,5,6,6.4,7,8,10,12,15,20,25,30,40,50,60,70,78];
const p7_aF=[1.05e-3,9.5e-4,8.8e-4,7.5e-4,6.8e-4,1e-3,6.2e-4,5.5e-4,4.8e-4,4.1e-4,3.5e-4,2.8e-4,2.4e-4,2.1e-4,1.6e-4,1.3e-4,1.2e-4,1.15e-4,1.1e-4];
const p7_bF=[9.5e-4,9e-4,8.3e-4,7.2e-4,6.5e-4,8e-4,6e-4,5.3e-4,4.6e-4,4e-4,3.4e-4,2.7e-4,2.3e-4,2.0e-4,1.6e-4,1.3e-4,1.15e-4,1.15e-4,1.1e-4];
const p7_batF=[1.5e-4,1.3e-4,1.1e-4,1e-4,5.5e-5,8e-6,1.2e-5,2.5e-5];
const p7_batErr=[.08,.1,.1,.1,.15,3,.8,3];
const p7_batM=[1.5e-4,1.5e-4,1.1e-4,9e-5,6e-5,3.5e-5,3e-5,2.5e-5];
const p7_c1E=[0.52,0.56,0.6,0.63,0.66,0.7,0.73,0.76,0.8,0.83,0.86,0.9,0.95,1.0,1.05,1.1,1.2,1.3,1.4,1.5,1.6,1.7,1.75,1.8,1.9,2.0,2.2,2.3,2.4,2.6,2.8,3.0,3.2,3.5,3.8,4];
const p7_c1F=[1e-5,9e-6,7e-5,1.5e-4,4e-5,1.5e-4,1.1e-4,1.6e-4,1.2e-4,6e-5,9e-5,3e-5,2.2e-5,2e-5,1.5e-5,8e-6,5e-6,2.5e-6,2e-6,4e-6,1.7e-5,5e-7,3e-6,2e-6,1.5e-6,1e-6,8e-6,6e-7,2e-7,8e-7,4e-7,1e-6,3e-7,1e-7,1e-7,2e-8];
const p7_c2E=[3,3.3,3.6,3.8,4,4.5,5,5.5,6,6.3,6.4,6.5,6.8,7.0,7.1,7.3,8,10,15,20,30,50,78];
const p7_c2F=[5e-7,1e-6,4e-6,6e-6,6e-6,1e-5,1.6e-5,2.2e-5,2.8e-5,3e-5,5e-4,3.5e-5,3.3e-5,3.3e-5,1.3e-4,2.8e-5,3.2e-5,3.8e-5,4.2e-5,3.8e-5,3e-5,2e-5,1.5e-5];
const p7_c3E=[14,20,30,50,78,100,150,195];
const p7_c3F=[9e-6,8.5e-6,7.5e-6,6.5e-6,5.5e-6,4e-6,3e-6,2.5e-6];
const p7_c4E=[14,30,50,78,100,150,195];
const p7_c4F=[1.3e-4,1.05e-4,8.5e-5,6.5e-5,5e-5,4e-5,3e-5];
const p7_rxE=[0.52,0.55,0.58,0.61,0.64,0.67,0.7,0.73,0.76,0.8,0.84,0.88,0.92,0.96,1.0,1.05,1.1,1.15,1.2,1.25,1.3,1.36,1.42,1.5,1.57,1.65,1.73,1.82,1.9,2.0,2.1,2.2,2.3,2.4,2.5,2.6,2.7,2.8,2.9,3.0,3.15,3.3,3.45,3.6,3.75,3.9,4.05,4.2,4.4,4.6,4.8,5.0,5.2,5.4,5.6,5.8,6.0,6.2,6.4,6.6,6.8,7.0,7.3,7.6,7.9,8.2,8.5,8.8,9.1,9.4,9.7,10];
const p7_rxR=[0.4,-0.8,-1.2,0,1.0,0.3,-0.8,0.5,-1.1,1.5,-0.9,0.3,-0.8,0.9,0.4,2.2,0.8,2.3,-0.5,1.2,1.8,-0.2,0.3,-0.5,0.8,-1.6,0.4,-1.2,2.3,-0.7,1.0,-1.5,0.5,-1.0,0.4,-1.8,0.7,-0.3,1.0,-0.5,1.5,-1.6,0.5,-0.6,2.0,-1.2,0.9,-0.3,1.6,-2.2,0.5,-0.8,1.9,-1.0,0.2,2.6,-1.4,0.6,-0.5,1.8,-2.0,1.1,-0.3,2.3,-0.9,0.7,1.3,-1.5,1.7,0.4,-0.2,1.0];
const p7_raE=[3.0,3.2,3.4,3.6,3.8,4.0,4.3,4.6,4.9,5.2,5.5,5.9,6.3,6.7,7.1,7.6,8.1,8.6,9.2,9.8,10.5,11.2,12,12.8,13.7,14.6,15.6,16.7,18,19.5,21,23,25,27.5,30,33,37,43,50,62,75];
const p7_raR=[1.2,-0.8,2.5,0.3,-1.5,0.8,-0.5,1.5,-1.2,0.6,2.0,-0.3,-1.6,0.9,0.2,-1.0,1.5,0.4,-0.6,1.2,-0.2,0.8,1.8,-1.0,0.3,1.6,-0.5,0.8,-1.8,0.5,2.0,0.6,1.6,-0.6,1.3,2.2,-0.5,-1.0,-0.3,-0.5,0];
const p7_rbE=[3.1,3.3,3.5,3.7,3.9,4.15,4.45,4.75,5.05,5.35,5.7,6.1,6.5,6.9,7.35,7.85,8.35,8.9,9.5,10.1,10.8,11.6,12.4,13.2,14.1,15.1,16.2,17.4,18.7,20,21.5,23.5,26,29,32,36,40,47,65];
const p7_rbR=[-0.5,0.8,-2.0,1.0,-0.8,2.2,-1.5,0.3,-1.6,0.6,-0.4,1.2,-2.2,-0.5,0.9,-1.3,0.4,-2.5,-0.3,1.0,2.0,-0.6,1.3,0.5,-0.2,1.4,-1.0,0.6,-0.9,1.7,0.2,-1.8,0.8,2.4,0.8,0.3,-0.4,0,0.2];
const p7_rtR=[-0.7,1.0,-0.3,0.6,-0.6,-1.4,-0.6,-0.5];

// ---------- Panel 8: HE 1136-2304 - ME+XILLVER ----------
const p8_xE=[0.52,0.56,0.6,0.65,0.7,0.75,0.8,0.9,1.0,1.1,1.2,1.3,1.5,1.7,2.0,2.3,2.6,3.0,3.5,4,4.5,5,5.5,6,6.3,6.4,6.5,7,7.5,8,8.5,9,9.5,10];
const p8_xF=[1.15e-3,1.25e-3,1.4e-3,1.55e-3,1.65e-3,1.75e-3,1.9e-3,1.85e-3,1.85e-3,1.85e-3,1.85e-3,1.8e-3,1.65e-3,1.5e-3,1.35e-3,1.25e-3,1.15e-3,1.0e-3,9.3e-4,8.5e-4,8e-4,7.4e-4,7e-4,6.5e-4,6.3e-4,8e-4,6.2e-4,6e-4,5.6e-4,5.3e-4,5e-4,4.8e-4,4.6e-4,4.5e-4];
const p8_nE=[3,3.5,4,5,6,6.4,7,8,10,12,15,20,25,30,40,50,60,70,78];
const p8_aF=[1.05e-3,9.5e-4,8.8e-4,7.5e-4,6.8e-4,7.5e-4,6.2e-4,5.5e-4,4.8e-4,4.1e-4,3.5e-4,2.8e-4,2.4e-4,2.1e-4,1.6e-4,1.3e-4,1.1e-4,1.0e-4,9e-5];
const p8_bF=[9.5e-4,9e-4,8.3e-4,7.2e-4,6.5e-4,7e-4,6e-4,5.3e-4,4.6e-4,4e-4,3.4e-4,2.7e-4,2.3e-4,2.0e-4,1.6e-4,1.35e-4,1.15e-4,1.1e-4,1.05e-4];
const p8_batF=[1.5e-4,2e-4,1.15e-4,1.1e-4,6e-5,9e-6,1.3e-5,9e-6];
const p8_batErr=[.1,.1,.1,.1,.15,3,.8,3];
const p8_batM=[2e-4,2e-4,1.2e-4,1.0e-4,5e-5,3e-5,1.6e-5,9e-6];
const p8_c1E=[0.52,0.55,0.6,0.62,0.65,0.68,0.7,0.73,0.77,0.8,0.85,0.9,0.95,1.0,1.05,1.1,1.2,1.3,1.35,1.4,1.5,1.6,1.7,1.75,1.8,1.9,2.0,2.2,2.35,2.4,2.6,2.8,3.0,3.1,3.3,3.5,3.8,4.0];
const p8_c1F=[9e-6,9e-6,7e-6,5e-5,3e-5,1e-4,4e-5,1.1e-4,1e-4,1.1e-4,9e-5,5e-5,7e-5,5e-5,2.5e-5,1.5e-5,1e-5,1.5e-5,5e-6,4e-6,3e-6,3e-6,1.5e-5,2e-6,1.5e-6,1.2e-6,1e-6,1.5e-6,3e-6,5e-7,3e-7,2e-7,4e-7,2e-7,1e-7,1e-7,3e-8,1e-8];
const p8_c2E=[14,20,30,50,75,100,150,195];
const p8_c2F=[1.8e-4,1.7e-4,1.3e-4,8e-5,5e-5,3.5e-5,1.6e-5,1e-5];
const p8_rxE=[0.52,0.55,0.58,0.61,0.64,0.67,0.7,0.73,0.76,0.8,0.84,0.88,0.92,0.96,1.0,1.05,1.1,1.15,1.2,1.25,1.3,1.36,1.42,1.5,1.57,1.65,1.73,1.82,1.9,2.0,2.1,2.2,2.3,2.4,2.5,2.6,2.7,2.8,2.9,3.0,3.15,3.3,3.45,3.6,3.75,3.9,4.05,4.2,4.4,4.6,4.8,5.0,5.2,5.4,5.6,5.8,6.0,6.2,6.4,6.6,6.8,7.0,7.3,7.6,7.9,8.2,8.5,8.8,9.1,9.4,9.7,10];
const p8_rxR=[0.5,-1.0,-1.6,-0.5,0.7,0.6,-1.2,0.2,-0.8,1.6,-1.3,0.3,0.5,-0.8,0.4,2.2,0.7,2.3,-0.4,1.2,1.5,-0.5,0.8,-1.0,0.3,-1.3,0.6,-1.1,1.8,-3.5,1.0,-1.5,0.5,-2.3,0.4,-1.8,0.7,-0.3,1.0,-0.5,1.5,-1.6,0.5,-0.6,2.0,-1.2,0.9,-0.3,1.6,-2.2,0.5,-0.8,2.4,-1.0,0.2,4.2,-1.4,0.6,-0.5,1.8,-2.0,1.1,-0.3,2.3,-0.9,0.7,1.3,-1.5,1.7,0.4,-0.2,1.0];
const p8_raE=[3.0,3.2,3.4,3.6,3.8,4.0,4.3,4.6,4.9,5.2,5.5,5.9,6.3,6.7,7.1,7.6,8.1,8.6,9.2,9.8,10.5,11.2,12,12.8,13.7,14.6,15.6,16.7,18,19.5,21,23,25,27.5,30,33,37,43,50,62,75];
const p8_raR=[0.4,2.7,-0.8,1.2,-1.5,0.8,-0.5,1.5,-1.2,0.6,2.0,-0.3,-1.6,0.9,0.2,-1.0,1.5,0.4,-0.6,1.2,-0.2,0.8,1.8,-1.0,0.3,1.6,-0.5,0.8,-1.8,0.5,2.0,0.6,1.6,-0.6,1.3,1.8,-1.3,-0.6,0.6,0.7,0.2];
const p8_rbE=[3.1,3.3,3.5,3.7,3.9,4.15,4.45,4.75,5.05,5.35,5.7,6.1,6.5,6.9,7.35,7.85,8.35,8.9,9.5,10.1,10.8,11.6,12.4,13.2,14.1,15.1,16.2,17.4,18.7,20,21.5,23.5,26,29,32,36,40,47,65];
const p8_rbR=[0.5,-1.0,1.8,0.3,-2.0,1.0,-0.8,2.2,-1.5,0.3,-1.6,0.6,-0.4,1.2,-2.2,-0.5,0.9,-1.3,0.4,-3.2,-0.3,1.0,2.0,-0.6,1.3,0.5,-0.2,1.4,-1.0,0.6,-0.9,1.7,0.2,-1.8,2.1,0.5,0.3,0.5,1.2];
const p8_rtR=[-0.9,1.2,-0.7,0.6,-0.1,-0.8,-0.1,-0.4];

// ---------- colours & layout ----------
const CB='#1f1fff',CR='#e8301c',CK='#111111',CO='#f08a30';
const CBl='#5a5aff',CRl='#f06a58',CKl='#4a4a4a',COl='#f5a766';
const layouts=[
 {x0:78,x1:573,yTop:28,yDiv:257,yBot:396,xE1:134,xdec:191.5,logRef:-2,yRef:67,ydec:90.5,r0:319,ru:16.6,ttlX:78,ttlY:19,legX:441,legY:39,ylabX:19},
 {x0:696,x1:1195,yTop:24,yDiv:257,yBot:396,xE1:752,xdec:193.5,logRef:-2,yRef:65,ydec:91.5,r0:339,ru:12,ttlX:714,ttlY:19,legX:1058,legY:39,ylabX:636},
 {x0:82,x1:570,yTop:501,yDiv:727,yBot:862,xE1:-48,xdec:270,logRef:-4,yRef:543,ydec:45,r0:768,ru:12.2,ttlX:83,ttlY:493,legX:94,legY:661,ylabX:16},
 {x0:700,x1:1184,yTop:503,yDiv:727,yBot:862,xE1:570,xdec:268,logRef:-4,yRef:537,ydec:45,r0:767,ru:12,ttlX:705,ttlY:493,legX:710,legY:661,ylabX:631},
 {x0:82,x1:567,yTop:982,yDiv:1207,yBot:1342,xE1:134,xdec:189.5,logRef:-3,yRef:1007,ydec:45,r0:1266,ru:31,ttlX:82,ttlY:974,legX:347,legY:1141,ylabX:15},
 {x0:693,x1:1189,yTop:973,yDiv:1203,yBot:1341,xE1:747,xdec:193,logRef:-3,yRef:993,ydec:46,r0:1289,ru:21.7,ttlX:695,ttlY:965,legX:710,legY:977,ylabX:628},
 {x0:87,x1:570,yTop:1449,yDiv:1673,yBot:1807,xE1:141,xdec:187,logRef:-3,yRef:1475,ydec:45,r0:1739,ru:20.7,ttlX:88,ttlY:1443,legX:353,legY:1599,ylabX:21},
 {x0:695,x1:1186,yTop:1451,yDiv:1678,yBot:1815,xE1:749,xdec:191,logRef:-3,yRef:1477,ydec:46,r0:1753,ru:17.3,ttlX:700,ttlY:1443,legX:967,legY:1599,ylabX:634}
];
const panels=[
 {title:'NGC 2992 - ab*(ME+PL+BORUS)',yExp:[-2,-3,-4],resT:[-4,-2,0,2],resMin:1,xLab:[1,10,100],thick:true,
  comps:[[p1_c1E,p1_c1F,CB],[p1_c2E,p1_c2F,CB],[p1_c3E,p1_c3F,CB],[p1_c4E,p1_c4F,CR],[p1_c5E,p1_c5F,CR],[p1_c6E,p1_c6F,CK],[p1_c7E,p1_c7F,CO]],
  spec:[{E:p1_xE,F:p1_xF,c:CB,err:0.02,name:'xmm'},{E:p1_nE,F:p1_bF,c:CK,err:0.03,name:'fpmb'},{E:p1_nE,F:p1_aF,c:CR,err:0.03,name:'fpma'}],
  bat:[p1_batF,p1_batErr,p1_batM],
  res:[[p1_rxE,p1_rxR,CBl,CB,1.0],[p1_rbE,p1_rbR,CKl,CK,1.0],[p1_raE,p1_raR,CRl,CR,1.0],[batE,p1_rtR,COl,CO,0.9]]},
 {title:'NGC 2992 - 2ME+XILLVER',yExp:[-2,-3,-4],resT:[0,5],resMin:1,xLab:[1,10,100],thick:true,
  comps:[[p2_c1E,p2_c1F,CB],[p2_c2E,p2_c2F,CO]],
  spec:[{E:p2_xE,F:p2_xF,c:CB,err:0.02,name:'xmm'},{E:p2_nE,F:p2_bF,c:CK,err:0.03,mE:p2_mE,mF:p2_mB,name:'fpmb'},{E:p2_nE,F:p2_aF,c:CR,err:0.03,mE:p2_mE,mF:p2_mA,name:'fpma'}],
  bat:[p2_batF,p2_batErr,p2_batM],
  res:[[p2_rxE,p2_rxR,CBl,CB,1.0],[p2_rbE,p2_rbR,CKl,CK,1.0],[p2_raE,p2_raR,CRl,CR,1.0],[batE,p2_rtR,COl,CO,0.9]]},
 {title:'M 51- BORUS',yExp:[-4,-5,-6,-7,-8],resT:[-5,0],resMin:1,xLab:[5,10,20,50,100],
  comps:[[p3_c1E,p3_c1F,CB],[p3_c1E,p3_c1F,CR],[p3_c2E,p3_c2F,CR],[p3_c3E,p3_c3F,CO],[p3_c4E,p3_c4F,CO]],
  spec:[{E:p3_xE,F:p3_xF,c:CB,err:p3_xErr,mE:p3_xmE,mF:p3_xmF,name:'xmm'},{E:p3_bE,F:p3_bF,c:CK,err:p3_bErr,mE:p3_mE,mF:p3_mF,name:'fpmb'},{E:p3_aE,F:p3_aF,c:CR,err:p3_aErr,mE:p3_mE,mF:p3_mF,name:'fpma'}],
  bat:[p3_batF,p3_batErr,p3_batM],
  res:[[p3_rxE,p3_rxR,CBl,CB,1.0],[p3_rbE,p3_rbR,CKl,CK,1.0],[p3_raE,p3_raR,CRl,CR,1.0],[batE,p3_rtR,COl,CO,0.9]]},
 {title:'M 51- ab*XILLVER',yExp:[-4,-5,-6,-7,-8],resT:[-5,0],resMin:1,xLab:[5,10,20,50,100],
  comps:[[p4_c1E,p4_c1F,CB],[p4_c1E,p4_c1F,CR],[p4_c2E,p4_c2F,CO]],
  spec:[{E:p4_xE,F:p4_xF,c:CB,err:p4_xErr,mE:p4_xmE,mF:p4_xmF,name:'xmm'},{E:p4_bE,F:p4_bF,c:CK,err:p4_bErr,mE:p4_mE,mF:p4_mF,name:'fpmb'},{E:p4_aE,F:p4_aF,c:CR,err:p4_aErr,mE:p4_mE,mF:p4_mF,name:'fpma'}],
  bat:[p4_batF,p4_batErr,p4_batM],
  res:[[p4_rxE,p4_rxR,CBl,CB,1.0],[p4_rbE,p4_rbR,CKl,CK,1.0],[p4_raE,p4_raR,CRl,CR,1.0],[batE,p4_rtR,COl,CO,0.9]]},
 {title:'NGC 2273- ab*(ME+ BORUS)',yExp:[-3,-4,-5,-6,-7],resT:[-2,-1,0,1],resMin:0.5,xLab:[1,10,100],
  comps:[[p5_c1E,p5_c1F,CB],[p5_c2E,p5_c2F,CB],[p5_c2E,p5_c2F,CK],[p5_c3E,p5_c3F,CO],[p5_c4E,p5_c4F,CO],[p5_c5E,p5_c5F,CK]],
  spec:[{E:p5_xE,F:p5_xF,c:CB,err:p5_xErr,mE:p5_xmE,mF:p5_xmF,step:true,name:'xmm'},{E:p5_bE,F:p5_bF,c:CK,err:0.12,mE:p5_mE,mF:p5_mB,name:'fpmb'},{E:p5_aE,F:p5_aF,c:CR,err:p5_aErr,mE:p5_mE,mF:p5_mA,name:'fpma'}],
  bat:[p5_batF,p5_batErr,p5_batM],
  res:[[p5_rxE,p5_rxR,CBl,CB,0.9],[p5_rbE,p5_rbR,CKl,CK,0.9],[p5_raE,p5_raR,CRl,CR,0.9],[batE,p5_rtR,COl,CO,0.8]]},
 {title:'NGC 2273- ab*(ME+XILLVER)',yExp:[-3,-4,-5,-6,-7],resT:[-2,0,2],resMin:1,xLab:[1,10,100],
  comps:[[p6_c1E,p6_c1F,CB],[p6_c2E,p6_c2F,CB],[p6_c2E,p6_c2F,CR],[p6_c3E,p6_c3F,CO]],
  spec:[{E:p6_xE,F:p6_xF,c:CB,err:p6_xErr,mE:p6_xmE,mF:p6_xmF,step:true,name:'xmm'},{E:p6_bE,F:p6_bF,c:CK,err:0.12,mE:p6_mE,mF:p6_mA,name:'fpmb'},{E:p6_aE,F:p6_aF,c:CR,err:p6_aErr,mE:p6_mE,mF:p6_mA,name:'fpma'}],
  bat:[p6_batF,p6_batErr,p6_batM],
  res:[[p6_rxE,p6_rxR,CBl,CB,1.0],[p6_rbE,p6_rbR,CKl,CK,1.0],[p6_raE,p6_raR,CRl,CR,1.0],[batE,p6_rtR,COl,CO,0.9]]},
 {title:'HE 1136-2304 - ME+BORUS',yExp:[-3,-4,-5,-6,-7],resT:[-2,0,2],resMin:1,xLab:[1,10,100],thick:true,
  comps:[[p7_c1E,p7_c1F,CB],[p7_c2E,p7_c2F,CB],[p7_c2E,p7_c2F,CK],[p7_c3E,p7_c3F,CO],[p7_c4E,p7_c4F,CO]],
  spec:[{E:p7_xE,F:p7_xF,c:CB,err:0.02,name:'xmm'},{E:p7_nE,F:p7_bF,c:CK,err:0.03,name:'fpmb'},{E:p7_nE,F:p7_aF,c:CR,err:0.03,name:'fpma'}],
  bat:[p7_batF,p7_batErr,p7_batM],
  res:[[p7_rxE,p7_rxR,CBl,CB,1.0],[p7_rbE,p7_rbR,CKl,CK,1.0],[p7_raE,p7_raR,CRl,CR,1.0],[batE,p7_rtR,COl,CO,0.9]]},
 {title:'HE 1136-2304 - ME+XILLVER',yExp:[-3,-4,-5,-6,-7],resT:[-2,0,2,4],resMin:1,xLab:[1,10,100],thick:true,
  comps:[[p8_c1E,p8_c1F,CB],[p8_c2E,p8_c2F,CO]],
  spec:[{E:p8_xE,F:p8_xF,c:CB,err:0.02,name:'xmm'},{E:p8_nE,F:p8_bF,c:CK,err:0.03,name:'fpmb'},{E:p8_nE,F:p8_aF,c:CR,err:0.03,name:'fpma'}],
  bat:[p8_batF,p8_batErr,p8_batM],
  res:[[p8_rxE,p8_rxR,CBl,CB,1.0],[p8_rbE,p8_rbR,CKl,CK,1.0],[p8_raE,p8_raR,CRl,CR,1.0],[batE,p8_rtR,COl,CO,0.9]]}
];

// ---------- drawing ----------
const NS='http://www.w3.org/2000/svg';
const svg=document.getElementById('fig');
function mk(tag,attrs,parent,name){
  const e=document.createElementNS(NS,tag);
  for(const k in attrs) e.setAttribute(k,attrs[k]);
  
  
  parent.appendChild(e);
  return e;
}
function stepPts(E,F,X,Y){
  let s='';
  for(let i=0;i<Math.min(E.length,F.length);i++){
    const l=i===0?E[0]/Math.sqrt(E[1]/E[0]):Math.sqrt(E[i-1]*E[i]);
    const r=i===E.length-1?E[i]*Math.sqrt(E[i]/E[i-1]):Math.sqrt(E[i]*E[i+1]);
    s+=X(l).toFixed(1)+','+Y(F[i]).toFixed(1)+' '+X(r).toFixed(1)+','+Y(F[i]).toFixed(1)+' ';
  }
  return s;
}
function linePts(E,F,X,Y){
  let s='';
  for(let i=0;i<Math.min(E.length,F.length);i++) s+=X(E[i]).toFixed(1)+','+Y(F[i]).toFixed(1)+' ';
  return s;
}
function drawPanel(P,L,idx){
  const X=E=>L.xE1+L.xdec*Math.log10(E);
  const Y=F=>L.yRef+L.ydec*(L.logRef-Math.log10(F));
  const R=r=>L.r0-L.ru*r;
  const g=mk('g',{},svg,'panel-'+(idx+1));
  const defs=mk('defs',{},g,'clip-defs');
  const cu=mk('clipPath',{id:'cu'+idx},defs,'clip-upper');
  mk('rect',{x:L.x0,y:L.yTop,width:L.x1-L.x0,height:L.yDiv-L.yTop},cu,'clip-rect');
  const cl=mk('clipPath',{id:'cl'+idx},defs,'clip-lower');
  mk('rect',{x:L.x0,y:L.yDiv,width:L.x1-L.x0,height:L.yBot-L.yDiv},cl,'clip-rect');
  const t=mk('text',{x:L.ttlX,y:L.ttlY,'font-size':13.5},g,'panel-title');
  t.textContent=P.title;
  const up=mk('g',{'clip-path':'url(#cu'+idx+')'},g,'spectrum-plot');
  P.comps.forEach((c,ci)=>{
    mk('polyline',{points:linePts(c[0],c[1],X,Y),fill:'none',stroke:c[2],'stroke-width':1.1,'stroke-dasharray':'1.3 2'},up,'model-component-'+(ci+1));
  });
  const [bF,bErr,bM]=P.bat;
  let bs='';
  for(let i=0;i<bM.length;i++){bs+=X(batBins[i]).toFixed(1)+','+Y(bM[i]).toFixed(1)+' '+X(batBins[i+1]).toFixed(1)+','+Y(bM[i]).toFixed(1)+' ';}
  mk('polyline',{points:bs,fill:'none',stroke:COl,'stroke-width':1.3},up,'bat-model');
  for(let i=0;i<bF.length;i++){
    const x=X(batE[i]),y=Y(bF[i]);
    mk('line',{x1:X(batBins[i]),x2:X(batBins[i+1]),y1:y,y2:y,stroke:COl,'stroke-width':1.3},up,'bat-bin');
    mk('line',{x1:x,x2:x,y1:Y(bF[i]*Math.pow(10,bErr[i])),y2:Y(bF[i]/Math.pow(10,bErr[i])),stroke:COl,'stroke-width':1.3},up,'bat-error');
    mk('circle',{cx:x,cy:y,r:1.5,fill:CO},up,'bat-point');
  }
  P.spec.forEach(s=>{
    const mE=s.mE||s.E, mF=s.mF||s.F;
    const pts=s.step?stepPts(mE,mF,X,Y):linePts(mE,mF,X,Y);
    const w=P.thick?(s.name==='xmm'?2.8:2.4):1.3;
    mk('polyline',{points:pts,fill:'none',stroke:s.c,'stroke-width':w,'stroke-linejoin':'round'},up,s.name+'-model');
    for(let i=0;i<Math.min(s.E.length,s.F.length);i++){
      const e=Array.isArray(s.err)?s.err[i]:s.err;
      const x=X(s.E[i]),y=Y(s.F[i]);
      mk('line',{x1:x,x2:x,y1:Y(s.F[i]*Math.pow(10,e)),y2:Y(s.F[i]/Math.pow(10,e)),stroke:s.c,'stroke-width':1.2,'stroke-opacity':0.75},up,s.name+'-error');
      mk('line',{x1:X(s.E[i]*0.975),x2:X(s.E[i]*1.025),y1:y,y2:y,stroke:s.c,'stroke-width':1.2},up,s.name+'-bin');
      mk('circle',{cx:x,cy:y,r:1.9,fill:s.c},up,s.name+'-point');
    }
  });
  const lo=mk('g',{'clip-path':'url(#cl'+idx+')'},g,'residual-plot');
  mk('line',{x1:L.x0,x2:L.x1,y1:R(0),y2:R(0),stroke:'#222','stroke-width':1},lo,'zero-line');
  P.res.forEach((rs,ri)=>{
    const [E,Rv,cl,cd,er]=rs;
    const isBat=(ri===3);
    for(let i=0;i<Math.min(E.length,Rv.length);i++){
      const x=X(E[i]),y=R(Rv[i]);
      const xl=isBat?X(batBins[i]):X(E[i]*0.975), xr=isBat?X(batBins[i+1]):X(E[i]*1.025);
      mk('line',{x1:x,x2:x,y1:R(Rv[i]+er),y2:R(Rv[i]-er),stroke:cl,'stroke-width':1.7},lo,'residual-error');
      mk('line',{x1:xl,x2:xr,y1:y,y2:y,stroke:cl,'stroke-width':1.4},lo,'residual-bin');
      mk('circle',{cx:x,cy:y,r:1.7,fill:cd},lo,'residual-point');
    }
  });
  mk('rect',{x:L.x0,y:L.yTop,width:L.x1-L.x0,height:L.yBot-L.yTop,fill:'none',stroke:'#666','stroke-width':1.3},g,'plot-frame');
  mk('line',{x1:L.x0,x2:L.x1,y1:L.yDiv,y2:L.yDiv,stroke:'#333','stroke-width':1.3},g,'panel-divider');
  const ax=mk('g',{stroke:'#555','stroke-width':1},g,'x-axis-ticks');
  const eMin=Math.pow(10,(L.x0-L.xE1)/L.xdec), eMax=Math.pow(10,(L.x1-L.xE1)/L.xdec);
  for(let d=-1;d<=2;d++){
    for(let m=1;m<=9;m++){
      const E=m*Math.pow(10,d);
      if(E<eMin||E>eMax) continue;
      const x=X(E), len=(m===1)?6:3;
      [[L.yTop,1],[L.yDiv,-1],[L.yDiv,1],[L.yBot,-1]].forEach(([yy,dir])=>{
        mk('line',{x1:x,x2:x,y1:yy,y2:yy+dir*len},ax,'x-tick');
      });
    }
  }
  P.xLab.forEach(v=>{
    const tx=mk('text',{x:X(v),y:L.yBot+17,'font-size':12.5,'text-anchor':'middle'},g,'x-tick-label');
    tx.textContent=String(v);
  });
  const xt=mk('text',{x:(L.x0+L.x1)/2,y:L.yBot+42,'font-size':13.5,'text-anchor':'middle'},g,'x-axis-title');
  xt.textContent='Energy (keV)';
  const ay=mk('g',{stroke:'#555','stroke-width':1},g,'y-axis-ticks');
  for(let d=-9;d<=-1;d++){
    for(let m=1;m<=9;m++){
      const F=m*Math.pow(10,d), y=Y(F);
      if(y<L.yTop||y>L.yDiv) continue;
      const len=(m===1)?6:3;
      mk('line',{x1:L.x0,x2:L.x0+len,y1:y,y2:y},ay,'y-tick');
      mk('line',{x1:L.x1,x2:L.x1-len,y1:y,y2:y},ay,'y-tick');
    }
  }
  P.yExp.forEach(ex=>{
    const y=Y(Math.pow(10,ex));
    const ty=mk('text',{x:L.x0-6,y:y+4,'font-size':12.5,'text-anchor':'end'},g,'y-tick-label');
    if(ex===-2){ty.textContent='0.01';}
    else{
      ty.textContent='10';
      const sp=mk('tspan',{dy:-5,'font-size':8},ty,'y-tick-exponent');
      sp.textContent='\u2212'+(-ex);
    }
  });
  for(let v=-10;v<=10;v+=P.resMin){
    const y=R(v);
    if(y<=L.yDiv+1||y>=L.yBot-1) continue;
    const major=P.resT.indexOf(v)>=0;
    const len=major?6:3;
    mk('line',{x1:L.x0,x2:L.x0+len,y1:y,y2:y},ay,'residual-tick');
    mk('line',{x1:L.x1,x2:L.x1-len,y1:y,y2:y},ay,'residual-tick');
  }
  P.resT.forEach(v=>{
    const tr=mk('text',{x:L.x0-6,y:R(v)+4.5,'font-size':12.5,'text-anchor':'end'},g,'residual-tick-label');
    tr.textContent=(v<0?'\u2212':'')+Math.abs(v);
  });
  const cy1=(L.yTop+L.yDiv)/2-8, cy2=(L.yDiv+L.yBot)/2-8;
  const yt=mk('text',{x:0,y:0,'font-size':14,'text-anchor':'middle',transform:'translate('+(L.ylabX+5)+','+cy1+') rotate(-90)'},g,'y-axis-title');
  yt.textContent='Photons cm';
  const s1=mk('tspan',{dy:-6,'font-size':9.5},yt,'unit-exponent');
  s1.textContent='\u22122';
  const s2=mk('tspan',{dy:6},yt,'unit-part');
  s2.textContent='s';
  const s3=mk('tspan',{dy:-6,'font-size':9.5},yt,'unit-exponent');
  s3.textContent='\u22121';
  const s4=mk('tspan',{dy:6},yt,'unit-part');
  s4.textContent='keV';
  const s5=mk('tspan',{dy:-6,'font-size':9.5},yt,'unit-exponent');
  s5.textContent='\u22121';
  const rt=mk('text',{x:0,y:0,'font-size':14,'text-anchor':'middle',transform:'translate('+(L.ylabX+5)+','+cy2+') rotate(-90)'},g,'residual-axis-title');
  rt.textContent='(data - model)/error';
  const lg=mk('g',{},g,'legend');
  mk('rect',{x:L.legX,y:L.legY,width:105,height:59,fill:'#fff',stroke:'#555','stroke-width':1},lg,'legend-box');
  const ent=[[CB,'XMM-Newton',' Pn'],[CR,'NuSTAR',' FPMA'],[CK,'NuSTAR',' FPMB'],[CO,'Swift',' BAT']];
  ent.forEach((en,i)=>{
    const yy=L.legY+12+i*12;
    mk('circle',{cx:L.legX+5,cy:yy,r:1.6,fill:en[0]},lg,'legend-marker');
    const lt=mk('text',{x:L.legX+18,y:yy+3.5,'font-size':10},lg,'legend-entry');
    const it=mk('tspan',{'font-style':'italic'},lt,'legend-mission');
    it.textContent=en[1];
    const nt=mk('tspan',{},lt,'legend-instrument');
    nt.textContent=en[2];
  });
}
panels.forEach((P,i)=>drawPanel(P,layouts[i],i));
</script>
</body></html>
